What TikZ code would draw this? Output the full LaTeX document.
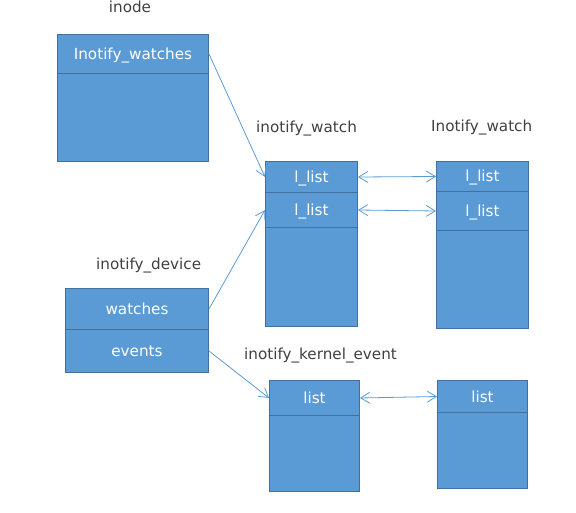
\documentclass[tikz,border=0pt]{standalone}
\usepackage{fontspec}
\setmainfont{DejaVu Sans}
\usetikzlibrary{arrows.meta}

\definecolor{boxfill}{HTML}{5B9BD5}
\definecolor{boxline}{HTML}{41719C}
\definecolor{linkcol}{HTML}{5B9BD5}
\definecolor{labelcol}{HTML}{404040}

\begin{document}
\begin{tikzpicture}[x=1pt,y=-1pt,
    field/.style={draw=boxline, fill=boxfill, line width=1pt, anchor=north west,
        inner sep=0pt, text=white, text height=11pt, text depth=0pt,
        font=\fontsize{15.2}{18}\selectfont},
    title/.style={anchor=base west, inner sep=0pt, text=labelcol,
        font=\fontsize{15.2}{18}\selectfont},
    link/.style={draw=linkcol, line width=0.8pt, -{Straight Barb[length=9pt,width=11pt]}},
    dlink/.style={link, {Straight Barb[length=9pt,width=11pt]}-{Straight Barb[length=9pt,width=11pt]}}]

    \useasboundingbox (0,0) rectangle (576,513);

    % inode
    \node[title, anchor=base] (inodelbl) at (130,13) {inode};
    \node[field, minimum width=151pt, minimum height=127pt] (inode) at (57,34) {};
    \node[field, minimum width=151pt, minimum height=39pt] (iwatches) at (57,34) {Inotify\_watches};

    % inotify_watch, left
    \node[title] (watchlbl) at (256,133) {inotify\_watch};
    \node[field, minimum width=92pt, minimum height=165pt] (watch) at (265,161) {};
    \node[field, minimum width=92pt, minimum height=31pt] (wlist1) at (265,161) {l\_list};
    \node[field, minimum width=92pt, minimum height=35pt] (wlist2) at (265,192) {l\_list};

    % inotify_watch, right
    \node[title] (watchlbl2) at (431,132) {Inotify\_watch};
    \node[field, minimum width=92pt, minimum height=167pt] (watchb) at (436,161) {};
    \node[field, minimum width=92pt, minimum height=30pt] (wblist1) at (436,161) {l\_list};
    \node[field, minimum width=92pt, minimum height=39pt] (wblist2) at (436,191) {l\_list};

    % inotify_device
    \node[title] (devlbl) at (96,270) {inotify\_device};
    \node[field, minimum width=143pt, minimum height=41pt] (watches) at (65,288) {watches};
    \node[field, minimum width=143pt, minimum height=43pt] (events) at (65,329) {events};

    % inotify_kernel_event
    \node[title] (kevlbl) at (244,359) {inotify\_kernel\_event};
    \node[field, minimum width=90pt, minimum height=111pt] (kev) at (269,380) {};
    \node[field, minimum width=90pt, minimum height=35pt] (klist) at (269,380) {list};
    \node[field, minimum width=90pt, minimum height=108pt] (kevb) at (437,380) {};
    \node[field, minimum width=90pt, minimum height=32pt] (kblist) at (437,380) {list};

    % links
    \draw[link] (iwatches.east) -- (wlist1.west);
    \draw[link] (watches.east) -- (wlist2.west);
    \draw[link] (events.east) -- (klist.west);
    \draw[dlink] (wlist1.east) -- (wblist1.west);
    \draw[dlink] (wlist2.east) -- (wblist2.west);
    \draw[dlink] (klist.east) -- (kblist.west);
\end{tikzpicture}
\end{document}
